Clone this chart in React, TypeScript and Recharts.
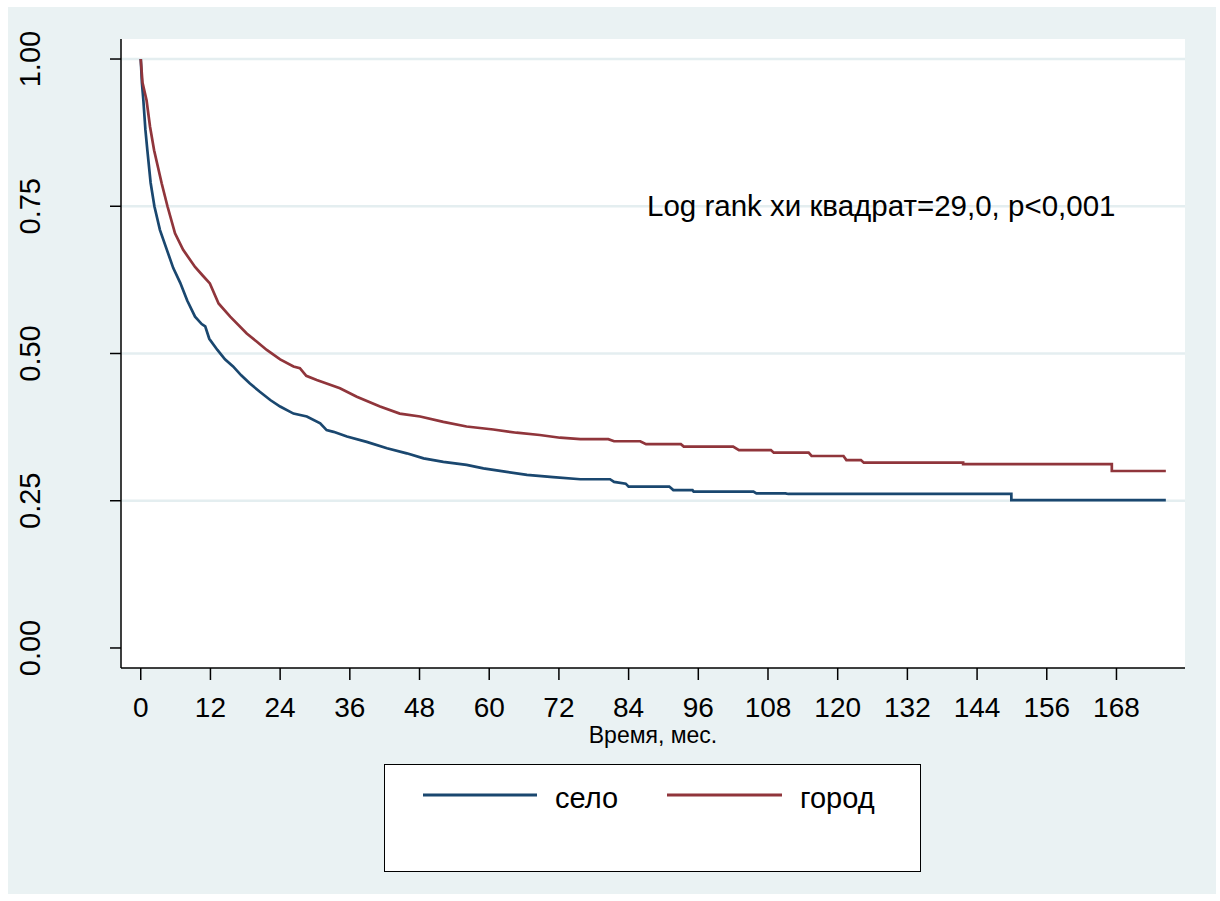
import React from 'react';
import { LineChart, Line, XAxis, YAxis, CartesianGrid, Legend, ReferenceDot } from 'recharts';

// ---- data (months, survival probability) ----
const seloMonths = [0, 0.2, 0.45, 0.8, 1.14, 1.7, 2.35, 3.3, 4.5, 5.6, 6.8, 8, 9.35, 10.5, 11.1, 11.8, 13.2, 14.5, 15.9, 17.3, 18.8, 20.5, 22.3, 24, 26.3, 28.6, 30.9, 32, 33.2, 35.5, 38.9, 42.4, 45.8, 48.7, 52.1, 56.1, 59, 63, 66.5, 71, 75.7, 80.8, 81.5, 83.5, 84, 91, 91.7, 95, 95.2, 105.5, 106, 111, 111.5, 149.9, 149.9, 176.5];
const seloSurv = [1.0, 0.96, 0.93, 0.88, 0.845, 0.79, 0.75, 0.71, 0.676, 0.645, 0.62, 0.59, 0.5625, 0.55, 0.546, 0.525, 0.506, 0.49, 0.478, 0.463, 0.449, 0.435, 0.421, 0.41, 0.398, 0.393, 0.3815, 0.37, 0.367, 0.359, 0.35, 0.339, 0.3305, 0.322, 0.316, 0.311, 0.305, 0.299, 0.294, 0.29, 0.2865, 0.2865, 0.282, 0.279, 0.274, 0.274, 0.268, 0.268, 0.2655, 0.2655, 0.2626, 0.2626, 0.2615, 0.2615, 0.251, 0.251];

const gorodMonths = [0, 0.3, 1.0, 1.6, 2.3, 3.6, 4.6, 5.9, 7.3, 9.35, 10.7, 11.9, 13.4, 15.4, 18.25, 20, 21.7, 24, 26.3, 27.4, 28.5, 30.3, 32, 34.3, 37.2, 41.2, 44.6, 48.1, 52.1, 56.1, 60.7, 64.7, 68.7, 72.2, 75.7, 80.5, 81.5, 86, 87, 93, 93.5, 102, 103, 108.5, 109, 115, 115.5, 121, 121.5, 124, 124.5, 141.6, 141.6, 167.2, 167.2, 176.5];
const gorodSurv = [1.0, 0.96, 0.93, 0.885, 0.845, 0.789, 0.75, 0.704, 0.676, 0.647, 0.632, 0.619, 0.585, 0.5625, 0.534, 0.52, 0.506, 0.49, 0.478, 0.475, 0.462, 0.455, 0.449, 0.441, 0.4267, 0.41, 0.398, 0.393, 0.384, 0.376, 0.371, 0.3655, 0.3616, 0.357, 0.3545, 0.3545, 0.351, 0.351, 0.346, 0.346, 0.342, 0.342, 0.336, 0.336, 0.3316, 0.3316, 0.326, 0.326, 0.319, 0.319, 0.3146, 0.3146, 0.312, 0.312, 0.3005, 0.3005];

const xTicks = [0, 12, 24, 36, 48, 60, 72, 84, 96, 108, 120, 132, 144, 156, 168];
const yTicks = [0, 0.25, 0.5, 0.75, 1.0];
const gridValues = [0.25, 0.5, 0.75, 1.0];
const seriesNames = ['село', 'город'];
const seriesColors = ['#1A476F', '#90353B'];
const xTitle = 'Время, мес.';
const annotation = 'Log rank хи квадрат=29,0, p<0,001';
const annotationPos = { m: 87, s: 0.752 };

const seloData = seloMonths.map((m, i) => ({ m, s: seloSurv[i] }));
const gorodData = gorodMonths.map((m, i) => ({ m, s: gorodSurv[i] }));

const FONT = '"Liberation Sans", Arial, Helvetica, sans-serif';

const XTick = (p: any) => (
  <text x={p.x} y={p.y} dy={32} textAnchor="middle" fontFamily={FONT} fontSize={28} fill="#000">
    {p.payload.value}
  </text>
);

const YTick = (p: any) => {
  const x = p.x - 65;
  return (
    <text x={x} y={p.y} transform={`rotate(-90, ${x}, ${p.y})`} textAnchor="middle" fontFamily={FONT} fontSize={29} fill="#000">
      {Number(p.payload.value).toFixed(2)}
    </text>
  );
};

const XTitle = (p: any) => {
  const vb = p.viewBox;
  return (
    <text x={vb.x + vb.width / 2} y={vb.y + 75} textAnchor="middle" fontFamily={FONT} fontSize={23} fill="#000">
      {xTitle}
    </text>
  );
};

const LegendBox = () => (
  <div style={{ width: 537, height: 108, boxSizing: 'border-box', border: '1.5px solid #000', background: '#fff' }}>
    <svg width={534} height={105} style={{ display: 'block' }}>
      <line x1={38} x2={152} y1={30} y2={30} stroke={seriesColors[0]} strokeWidth={3} />
      <text x={170} y={43} fontFamily={FONT} fontSize={29} fill="#000">{seriesNames[0]}</text>
      <line x1={282} x2={397} y1={30} y2={30} stroke={seriesColors[1]} strokeWidth={3} />
      <text x={415} y={43} fontFamily={FONT} fontSize={29} fill="#000">{seriesNames[1]}</text>
    </svg>
  </div>
);

export default function App() {
  return (
    <div style={{ position: 'absolute', left: 0, top: 0, width: 1220, height: 901, background: '#fff' }}>
      <div style={{ position: 'absolute', left: 8, top: 7, width: 1208, height: 887, background: '#EAF2F3' }} />
      <div style={{ position: 'absolute', left: 0, top: 0 }}>
        <LineChart width={1220} height={901} margin={{ top: 39, right: 35, bottom: 173, left: 0 }}>
          <CartesianGrid fill="#fff" vertical={false} horizontalValues={gridValues} stroke="#E4EEF0" strokeWidth={2.5} />
          <XAxis
            dataKey="m"
            type="number"
            domain={[-3.4, 179.8]}
            ticks={xTicks}
            allowDataOverflow
            height={60}
            tickSize={12}
            tickMargin={5}
            axisLine={{ stroke: '#000', strokeWidth: 1.5 }}
            tickLine={{ stroke: '#000', strokeWidth: 1.5 }}
            tick={<XTick />}
            label={<XTitle />}
          />
          <YAxis
            dataKey="s"
            type="number"
            domain={[-0.034, 1.034]}
            ticks={yTicks}
            allowDataOverflow
            width={121}
            tickSize={11}
            tickMargin={5}
            axisLine={{ stroke: '#000', strokeWidth: 1.5 }}
            tickLine={{ stroke: '#000', strokeWidth: 1.5 }}
            tick={<YTick />}
          />
          <Line data={seloData} dataKey="s" name={seriesNames[0]} type="linear" stroke={seriesColors[0]} strokeWidth={2.7} dot={false} isAnimationActive={false} />
          <Line data={gorodData} dataKey="s" name={seriesNames[1]} type="linear" stroke={seriesColors[1]} strokeWidth={2.7} dot={false} isAnimationActive={false} />
          <ReferenceDot
            x={annotationPos.m}
            y={annotationPos.s}
            r={1}
            fill="none"
            stroke="none"
            isFront
            label={{ value: annotation, position: 'right', offset: 0, fontSize: 29.5, fill: '#000', fontFamily: FONT }}
          />
          <Legend
            layout="horizontal"
            verticalAlign="middle"
            align="center"
            content={<LegendBox />}
            wrapperStyle={{ left: 384, top: 764, width: 537, height: 108 }}
          />
        </LineChart>
      </div>
    </div>
  );
}
